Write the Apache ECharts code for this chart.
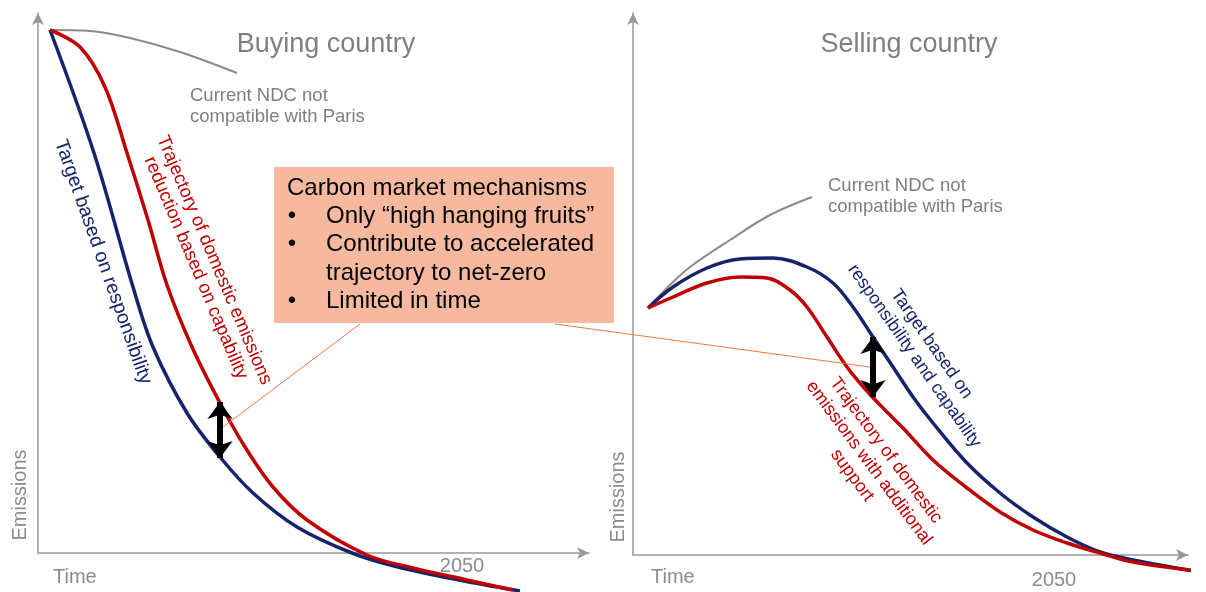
<!DOCTYPE html>
<html>
<head>
<meta charset="utf-8">
<script src="https://cdn.jsdelivr.net/npm/echarts@6/dist/echarts.min.js"></script>
<style>
  html, body { margin: 0; padding: 0; background: #fff; }
  #chart { width: 1206px; height: 592px; }
</style>
</head>
<body>
<div id="chart"></div>
<script>
// buying country (left panel) - [time, emissions]
var buyTarget = [[12, 523], [56, 400], [95, 266], [115, 206], [149, 140], [182, 96], [215, 60], [259, 26], [314, 0], [360, -14], [421, -27], [482, -38]];
var buyDomestic = [[12, 523], [42, 506], [67, 466], [89, 400], [110, 333], [129, 268], [154, 206], [182, 150], [207, 106], [235, 66], [269, 33], [329, -2], [375, -15], [429, -27], [475, -37]];
var buyNdc = [[12, 523], [52, 522], [92, 515], [142, 501], [199, 480]];
var buyGap = [[182, 151], [182, 95]];

// selling country (right panel)
var sellTarget = [[15, 247], [40, 268], [74, 287], [107, 296], [140, 297], [174, 288], [200, 272], [220, 248], [240, 218], [260, 188], [280, 158], [300, 132], [334, 92], [367, 62], [400, 38], [434, 18], [467, 3], [500, -5], [573, -18]];
var sellDomestic = [[15, 247], [40, 258], [74, 272], [107, 278], [134, 277], [157, 265], [174, 248], [194, 218], [214, 188], [233, 165], [252, 145], [270, 127], [300, 95], [334, 67], [367, 43], [400, 25], [434, 12], [467, 2], [500, -7], [573, -17]];
var sellNdc = [[15, 247], [37, 270], [57, 288], [97, 315], [137, 340], [179, 358]];
var sellGap = [[240, 218], [240, 158]];

var boxTitle = "Carbon market mechanisms";
var boxBullets = ["Only \u201chigh hanging fruits\u201d", "Contribute to accelerated", "trajectory to net-zero", "Limited in time"];

var NAVY = "#16256b";
var RED = "#c00000";
var GREY = "#8a8a8a";
var FONT = "'Liberation Sans', Arial, sans-serif";

function axisX(idx, max) {
  return {
    type: "value", gridIndex: idx, min: 0, max: max,
    axisLine: { show: true, onZero: true, symbol: ["none", "arrow"], symbolSize: [9, 12], lineStyle: { color: "#999", width: 1.5 } },
    axisTick: { show: false }, axisLabel: { show: false }, splitLine: { show: false }
  };
}
function axisY(idx, max) {
  return {
    type: "value", gridIndex: idx, min: 0, max: max,
    axisLine: { show: true, symbol: ["none", "arrow"], symbolSize: [9, 12], lineStyle: { color: "#999", width: 1.5 } },
    axisTick: { show: false }, axisLabel: { show: false }, splitLine: { show: false }
  };
}
function curve(idx, data, color, width) {
  return {
    type: "line", xAxisIndex: idx, yAxisIndex: idx, data: data,
    smooth: 0.35, showSymbol: false, clip: false, silent: true,
    lineStyle: { color: color, width: width }
  };
}
function gap(idx, pts) {
  return {
    type: "line", xAxisIndex: idx, yAxisIndex: idx, data: [], silent: true,
    markLine: {
      silent: true, symbol: ["arrow", "arrow"], symbolSize: [19, 17],
      label: { show: false },
      lineStyle: { color: "#000", width: 6, type: "solid" },
      data: [[{ coord: pts[0] }, { coord: pts[1] }]]
    }
  };
}
function txt(x, y, s, size, color, deg, extra) {
  var style = { text: s, fill: color, font: size + "px " + FONT, textAlign: "center", textVerticalAlign: "middle", lineHeight: Math.round(size * 1.15) };
  if (extra) for (var k in extra) style[k] = extra[k];
  return { type: "text", x: x, y: y, rotation: (deg || 0) * Math.PI / 180, style: style, z: 10 };
}

var graphics = [
  txt(326, 45, "Buying country", 27, "#7f7f7f"),
  txt(909, 45, "Selling country", 27, "#7f7f7f"),
  txt(190, 106, "Current NDC not\ncompatible with Paris", 18.5, "#7f7f7f", 0, { textAlign: "left", lineHeight: 21 }),
  txt(828, 196, "Current NDC not\ncompatible with Paris", 18.5, "#7f7f7f", 0, { textAlign: "left", lineHeight: 21 }),
  txt(20, 495, "Emissions", 20, "#8c8c8c", 90),
  txt(618, 497, "Emissions", 20, "#8c8c8c", 90),
  txt(53, 577, "Time", 20, "#8c8c8c", 0, { textAlign: "left" }),
  txt(651, 577, "Time", 20, "#8c8c8c", 0, { textAlign: "left" }),
  txt(462, 566, "2050", 20, "#8c8c8c"),
  txt(1054, 580, "2050", 20, "#8c8c8c"),
  txt(103, 262, "Target based on responsibility", 19.5, NAVY, -70.5),
  txt(205, 264, "Trajectory of domestic emissions\nreduction based on capability", 18.5, RED, -67, { lineHeight: 20 }),
  txt(923, 350, "Target based on\nresponsibility and capability", 18, NAVY, -55, { lineHeight: 21 }),
  txt(869, 463, "Trajectory of domestic\nemissions with additional\nsupport", 18, RED, -53.5, { lineHeight: 21 }),
  { type: "line", shape: { x1: 360, y1: 324, x2: 223, y2: 427 }, style: { stroke: "#f07838", lineWidth: 1 }, z: 5 },
  { type: "line", shape: { x1: 555, y1: 324, x2: 870, y2: 367 }, style: { stroke: "#f07838", lineWidth: 1 }, z: 5 },
  { type: "rect", shape: { x: 274, y: 167, width: 340, height: 156 }, style: { fill: "#f6b9a0" }, z: 6 },
  txt(287, 188, boxTitle, 24, "#000", 0, { textAlign: "left" })
];
boxBullets.forEach(function (b, i) {
  var y = 216 + i * 28.6;
  if (i !== 2) graphics.push(txt(292, y, "\u2022", 24, "#000"));
  graphics.push(txt(326, y, b, 24, "#000", 0, { textAlign: "left" }));
});

var chart = echarts.init(document.getElementById("chart"));
chart.setOption({
  animation: false,
  backgroundColor: "#fff",
  grid: [
    { left: 38, top: 13, width: 551, height: 540 },
    { left: 633, top: 13, width: 555, height: 542 }
  ],
  xAxis: [axisX(0, 551), axisX(1, 555)],
  yAxis: [axisY(0, 540), axisY(1, 542)],
  series: [
    curve(0, buyNdc, GREY, 2),
    curve(0, buyTarget, NAVY, 3.5),
    curve(0, buyDomestic, RED, 3.5),
    gap(0, buyGap),
    curve(1, sellNdc, GREY, 2),
    curve(1, sellTarget, NAVY, 3.5),
    curve(1, sellDomestic, RED, 3.5),
    gap(1, sellGap)
  ],
  graphic: graphics
});
</script>
</body>
</html>
